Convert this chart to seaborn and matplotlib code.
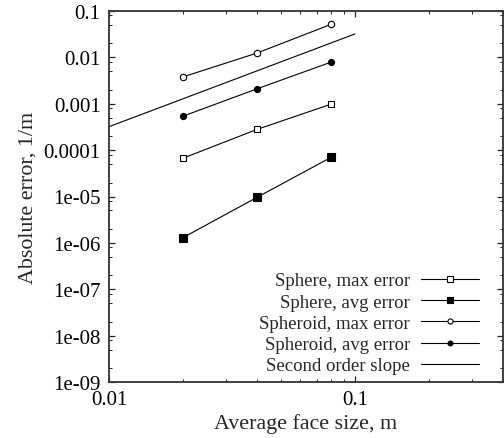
import numpy as np
import pandas as pd
import matplotlib
matplotlib.use("Agg")
import matplotlib.pyplot as plt
import matplotlib.ticker as mticker
import seaborn as sns

# ---- data ----
face_size = [0.02, 0.04, 0.08]
sphere_max = [6.7e-5, 2.8e-4, 9.8e-4]
sphere_avg = [1.3e-6, 9.6e-6, 7.0e-5]
spheroid_max = [0.0038, 0.0124, 0.0516]
spheroid_avg = [0.00054, 0.0021, 0.0079]
slope_x = [0.01, 0.1]
slope_y = [3.2e-4, 3.2e-2]

labels = ["Sphere, max error", "Sphere, avg error", "Spheroid, max error",
          "Spheroid, avg error", "Second order slope"]
yticks = [1e-1, 1e-2, 1e-3, 1e-4, 1e-5, 1e-6, 1e-7, 1e-8, 1e-9]
ytick_labels = ["0.1", "0.01", "0.001", "0.0001", "1e-05", "1e-06", "1e-07", "1e-08", "1e-09"]
xticks = [0.01, 0.1]
xtick_labels = ["0.01", "0.1"]

sns.set_theme(style="ticks")
plt.rcParams["font.family"] = ["Liberation Serif", "DejaVu Serif"]

fig = plt.figure(figsize=(5.04, 4.39), dpi=100)
ax = fig.add_axes([109 / 504, 1 - 383 / 439, (503 - 109) / 504, (383 - 12) / 439])

lw = 0.8
series = [
    (sphere_max, "s", "white", 4.6),
    (sphere_avg, "s", "black", 5.2),
    (spheroid_max, "o", "white", 4.6),
    (spheroid_avg, "o", "black", 4.4),
]
for (vals, m, fc, ms), lab in zip(series, labels[:4]):
    df = pd.DataFrame({"x": face_size, "y": vals})
    sns.lineplot(data=df, x="x", y="y", ax=ax, color="black", linewidth=lw,
                 marker=m, markersize=ms, markerfacecolor=fc,
                 markeredgecolor="black", markeredgewidth=0.8, label=lab)
df = pd.DataFrame({"x": slope_x, "y": slope_y})
sns.lineplot(data=df, x="x", y="y", ax=ax, color="black", linewidth=lw,
             label=labels[4])

ax.set_xscale("log")
ax.set_yscale("log")
ax.set_xlim(0.01, 0.4)
ax.set_ylim(1e-9, 0.1)

ax.xaxis.set_major_locator(mticker.FixedLocator(xticks))
ax.xaxis.set_major_formatter(mticker.FixedFormatter(xtick_labels))
ax.xaxis.set_minor_locator(mticker.LogLocator(base=10, subs=np.arange(2, 10), numticks=20))
ax.xaxis.set_minor_formatter(mticker.NullFormatter())
ax.yaxis.set_major_locator(mticker.FixedLocator(yticks))
ax.yaxis.set_major_formatter(mticker.FixedFormatter(ytick_labels))
ax.yaxis.set_minor_locator(mticker.LogLocator(base=10, subs=[2, 5, 8], numticks=20))
ax.yaxis.set_minor_formatter(mticker.NullFormatter())

ax.tick_params(which="both", direction="in", top=True, right=True,
               colors="#222222", labelcolor="black", labelsize=15)
ax.tick_params(which="major", length=4.5, width=0.9)
ax.tick_params(which="minor", length=2.3, width=0.7)
ax.tick_params(axis="y", which="major", pad=6)
ax.tick_params(axis="x", which="major", pad=6)

for sp in ax.spines.values():
    sp.set_linewidth(1.3)
    sp.set_color("#333333")

ax.set_xlabel("Average face size, m", fontsize=15.8, labelpad=3)
ax.set_ylabel("Absolute error, 1/m", fontsize=15.8, labelpad=4)

leg = ax.legend(loc="lower right", frameon=False, markerfirst=False,
                fontsize=13.5, handlelength=3.1, handletextpad=0.6,
                labelspacing=0.22, markerscale=0.8,
                bbox_to_anchor=(0.968, -0.01), borderaxespad=0.2)

fig.savefig("out.png", dpi=100)
